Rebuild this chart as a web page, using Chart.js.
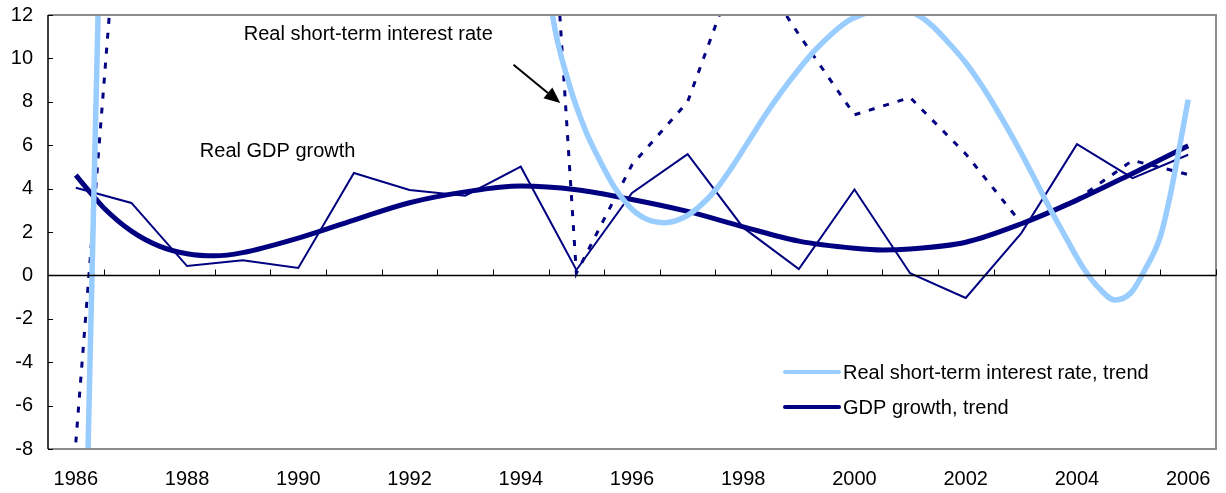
<!DOCTYPE html>
<html>
<head>
<meta charset="utf-8">
<script src="https://cdn.jsdelivr.net/npm/chart.js@4"></script>
<style>
  html, body { margin: 0; padding: 0; background: #fff; }
  #wrap { width: 1226px; height: 493px; }
</style>
</head>
<body>
<div id="wrap"><canvas id="c" width="1226" height="493"></canvas></div>
<script>
// ---- Data ----
const years = [1986,1987,1988,1989,1990,1991,1992,1993,1994,1995,1996,1997,1998,1999,2000,2001,2002,2003,2004,2005,2006];
const gdpGrowth = [4.04,3.34,0.43,0.70,0.34,4.72,3.94,3.67,5.01,0.25,3.80,5.59,2.20,0.29,3.96,0.10,-1.04,1.95,6.05,4.48,5.56];
// 1987-1994 lie above the plotted range; estimated from the slopes where the line leaves/enters the frame
const realRate = [-7.7,25,28,30,32,34,36,38,40,0.1,5.1,8.0,15.0,11.1,7.4,8.2,5.6,2.4,3.5,5.3,4.65];

const gdpTrendX = [1986,1986.3,1986.5,1987,1987.5,1988,1988.5,1989,1990,1991,1992,1993,1994,1995,1996,1997,1998,1999,2000,2000.5,2001,2002,2003,2004,2005,2006];
const gdpTrendY = [4.62,3.70,3.12,2.04,1.35,1.00,0.90,1.05,1.72,2.55,3.35,3.85,4.12,3.95,3.50,2.95,2.24,1.58,1.25,1.17,1.22,1.53,2.38,3.47,4.70,5.97];

const rateTrendX = [1986,1986.1,1986.22,1986.4,1986.6,1987,1988,1990,1992,1993.5,1994.2,1994.57,1994.86,1995.16,1995.4,1995.7,1996.0,1996.3,1996.6,1996.9,1997.2,1997.5,1997.8,1998.1,1998.4,1998.7,1999.0,1999.3,1999.6,1999.9,2000.12,2000.6,2001.14,2001.4,2001.68,2002.0,2002.3,2002.6,2002.9,2003.2,2003.5,2003.8,2004.1,2004.4,2004.68,2004.97,2005.22,2005.5,2005.67,2005.81,2006.0];
const rateTrendY = [-40,-22,-8,12,30,55,80,90,75,40,20,12,8.9,6.7,5.4,4.0,3.05,2.55,2.43,2.63,3.15,3.93,5.0,6.2,7.4,8.5,9.5,10.4,11.15,11.75,12.0,12.4,12.0,11.5,10.75,9.8,8.7,7.45,6.1,4.65,3.15,1.75,0.4,-0.6,-1.13,-0.8,0.25,1.8,3.6,5.45,8.1];

const xTickLabels = [1986,1988,1990,1992,1994,1996,1998,2000,2002,2004,2006];
const yTickValues = [-8,-6,-4,-2,0,2,4,6,8,10,12];
const seriesNames = ['Real GDP growth','Real short-term interest rate','Real short-term interest rate, trend','GDP growth, trend'];

const NAVY = '#000080';
const LIGHT = '#99CCFF';
const FONT = 'Arial, "Liberation Sans", sans-serif';
const FS = 20;

function pts(xs, ys) { return xs.map((x, i) => ({ x: x, y: ys[i] })); }

const decorPlugin = {
  id: 'decor',
  afterDraw(chart) {
    const ctx = chart.ctx;
    const a = chart.chartArea;
    const xs = chart.scales.x, ys = chart.scales.y;
    ctx.save();
    // frame (grey) top, right, bottom
    ctx.strokeStyle = '#8c8c8c';
    ctx.lineWidth = 2;
    ctx.beginPath();
    ctx.moveTo(a.left, a.top); ctx.lineTo(a.right, a.top); ctx.lineTo(a.right, a.bottom); ctx.lineTo(a.left, a.bottom);
    ctx.stroke();
    // left axis (black)
    ctx.strokeStyle = '#000';
    ctx.lineWidth = 1.5;
    ctx.beginPath(); ctx.moveTo(a.left, a.top); ctx.lineTo(a.left, a.bottom); ctx.stroke();
    // y tick marks (inside)
    ctx.lineWidth = 1;
    ctx.beginPath();
    yTickValues.forEach(v => { const y = Math.round(ys.getPixelForValue(v)) + 0.5; ctx.moveTo(a.left, y); ctx.lineTo(a.left + 5, y); });
    ctx.stroke();
    // zero line with category tick marks
    const y0 = Math.round(ys.getPixelForValue(0)) + 0.5;
    ctx.lineWidth = 1.5;
    ctx.beginPath(); ctx.moveTo(a.left, y0); ctx.lineTo(a.right, y0); ctx.stroke();
    ctx.lineWidth = 1;
    ctx.beginPath();
    years.forEach(yr => { const x = Math.round(xs.getPixelForValue(yr + 0.5)) + 0.5; ctx.moveTo(x, y0); ctx.lineTo(x, y0 - 6); });
    ctx.stroke();

    // annotations
    ctx.fillStyle = '#000';
    ctx.font = FS + 'px ' + FONT;
    ctx.textBaseline = 'middle';
    ctx.textAlign = 'left';
    ctx.fillText(seriesNames[1], xs.getPixelForValue(1989.02), ys.getPixelForValue(11.08));
    ctx.fillText(seriesNames[0], xs.getPixelForValue(1988.23), ys.getPixelForValue(5.69));
    // arrow
    const x1 = xs.getPixelForValue(1993.87), y1 = ys.getPixelForValue(9.71);
    const x2 = xs.getPixelForValue(1994.71), y2 = ys.getPixelForValue(7.94);
    const ang = Math.atan2(y2 - y1, x2 - x1);
    const hl = 16, hw = 7;
    const bx = x2 - hl * Math.cos(ang), by = y2 - hl * Math.sin(ang);
    ctx.strokeStyle = '#000'; ctx.lineWidth = 2;
    ctx.beginPath(); ctx.moveTo(x1, y1); ctx.lineTo(bx, by); ctx.stroke();
    ctx.beginPath();
    ctx.moveTo(x2, y2);
    ctx.lineTo(bx + hw * Math.sin(ang), by - hw * Math.cos(ang));
    ctx.lineTo(bx - hw * Math.sin(ang), by + hw * Math.cos(ang));
    ctx.closePath(); ctx.fill();

    // legend (trend series)
    const legend = [
      { label: seriesNames[2], color: LIGHT, y: 372 },
      { label: seriesNames[3], color: NAVY, y: 407 }
    ];
    legend.forEach(it => {
      ctx.strokeStyle = it.color; ctx.lineWidth = 4; ctx.lineCap = 'round';
      ctx.beginPath(); ctx.moveTo(785, it.y); ctx.lineTo(839, it.y); ctx.stroke();
      ctx.fillStyle = '#000';
      ctx.fillText(it.label, 843, it.y + 1);
    });
    ctx.restore();
  }
};

new Chart(document.getElementById('c'), {
  type: 'line',
  data: {
    datasets: [
      { label: seriesNames[2], data: pts(rateTrendX, rateTrendY), borderColor: LIGHT, borderWidth: 5.5, pointRadius: 0, cubicInterpolationMode: 'monotone', order: 0, clip: 0 },
      { label: seriesNames[3], data: pts(gdpTrendX, gdpTrendY), borderColor: NAVY, borderWidth: 5, pointRadius: 0, cubicInterpolationMode: 'monotone', order: 1, clip: 0 },
      { label: seriesNames[1], data: pts(years, realRate), borderColor: NAVY, borderWidth: 3, borderDash: [6, 9], pointRadius: 0, tension: 0, order: 2, clip: 0 },
      { label: seriesNames[0], data: pts(years, gdpGrowth), borderColor: NAVY, borderWidth: 2, pointRadius: 0, tension: 0, order: 3, clip: 0 }
    ]
  },
  options: {
    responsive: false,
    animation: false,
    events: [],
    layout: { padding: { top: 15, right: 10, left: 0, bottom: 0 } },
    plugins: { legend: { display: false }, tooltip: { enabled: false } },
    scales: {
      x: {
        type: 'linear', min: 1985.5, max: 2006.5,
        afterBuildTicks: s => { s.ticks = xTickLabels.map(v => ({ value: v })); },
        afterFit: s => { s.height = 44; s.paddingLeft = 0; s.paddingRight = 0; },
        grid: { display: false, drawTicks: false },
        border: { display: false },
        ticks: { callback: v => String(v), color: '#000', font: { family: FONT, size: FS }, padding: 18, maxRotation: 0, autoSkip: false }
      },
      y: {
        min: -8, max: 12,
        afterBuildTicks: s => { s.ticks = yTickValues.map(v => ({ value: v })); },
        afterFit: s => { s.width = 48; s.paddingTop = 0; s.paddingBottom = 0; },
        grid: { display: false, drawTicks: false },
        border: { display: false },
        ticks: { color: '#000', font: { family: FONT, size: FS }, padding: 15 }
      }
    }
  },
  plugins: [decorPlugin]
});
</script>
</body>
</html>
